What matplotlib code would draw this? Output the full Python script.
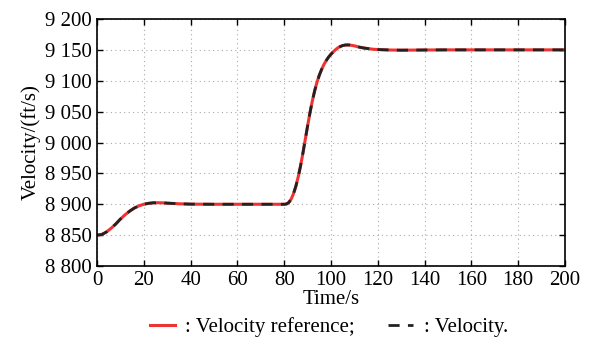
import numpy as np
import matplotlib
matplotlib.use("Agg")
import matplotlib.pyplot as plt
from matplotlib.ticker import FuncFormatter

plt.rcParams['font.family'] = ['Liberation Serif', 'DejaVu Serif']

# time (s) and velocity (ft/s)
t = [0, 2, 4, 6, 8, 10, 12, 14, 16, 18, 20, 22, 24, 26, 28, 30, 35, 40, 50, 60,
     70, 80, 81, 82, 83, 84, 85, 86, 87, 88, 89, 90, 91, 92, 93, 94, 95, 96, 97,
     98, 99, 100, 101, 102, 103, 104, 105, 106, 107, 108, 110, 112, 114, 116,
     118, 120, 125, 130, 140, 150, 200]
v_ref = [8850, 8851, 8855, 8861, 8868, 8876, 8883, 8889, 8894, 8897.5, 8900,
         8901.5, 8902.3, 8902.5, 8902.3, 8901.8, 8900.8, 8900.2, 8900, 8900,
         8900, 8900, 8900.5, 8903, 8908.5, 8917.5, 8929.5, 8944.5, 8962.5,
         8983, 9005, 9027, 9048, 9067, 9083.5, 9097.5, 9109, 9118.5, 9126.5,
         9133, 9138.5, 9143, 9147, 9150.5, 9153.5, 9155.5, 9157, 9157.8, 9158,
         9157.8, 9156.5, 9154.5, 9153, 9152, 9151, 9150.5, 9149.8, 9149.5,
         9149.8, 9150, 9150]
v = v_ref

xticks = [0, 20, 40, 60, 80, 100, 120, 140, 160, 180, 200]
yticks = [8800, 8850, 8900, 8950, 9000, 9050, 9100, 9150, 9200]


def thousands(val, pos):
    s = f"{int(round(val)):d}"
    if len(s) > 3:
        s = s[:-3] + " " + s[-3:]
    return s


fig = plt.figure(figsize=(5.93, 3.41), dpi=100)
ax = fig.add_axes([0.1636, 0.2199, 0.7892, 0.7244])

ax.plot(t, v_ref, color='#ee3333', lw=2.2, label=': Velocity reference;')
ax.plot(t, v, color='#222222', lw=2.0, ls=(0, (4, 3)), label=': Velocity.')

ax.set_xlim(0, 200)
ax.set_ylim(8800, 9200)
ax.set_xticks(xticks)
ax.set_yticks(yticks)
ax.yaxis.set_major_formatter(FuncFormatter(thousands))
ax.tick_params(direction='in', top=True, right=True, labelsize=15, length=4,
               width=1)
ax.grid(True, ls=(0, (1, 3)), color='#aaaaaa', lw=0.8)
for sp in ax.spines.values():
    sp.set_linewidth(1.2)

ax.set_xlabel('Time/s', fontsize=15, labelpad=0)
ax.set_ylabel('Velocity/(ft/s)', fontsize=15, labelpad=3)

ax.legend(loc='upper center', bbox_to_anchor=(0.495, -0.175), ncol=2,
          frameon=False, fontsize=15, handlelength=1.2, handletextpad=0.5,
          columnspacing=1.6, borderaxespad=0)

fig.savefig('out.png', dpi=100)
